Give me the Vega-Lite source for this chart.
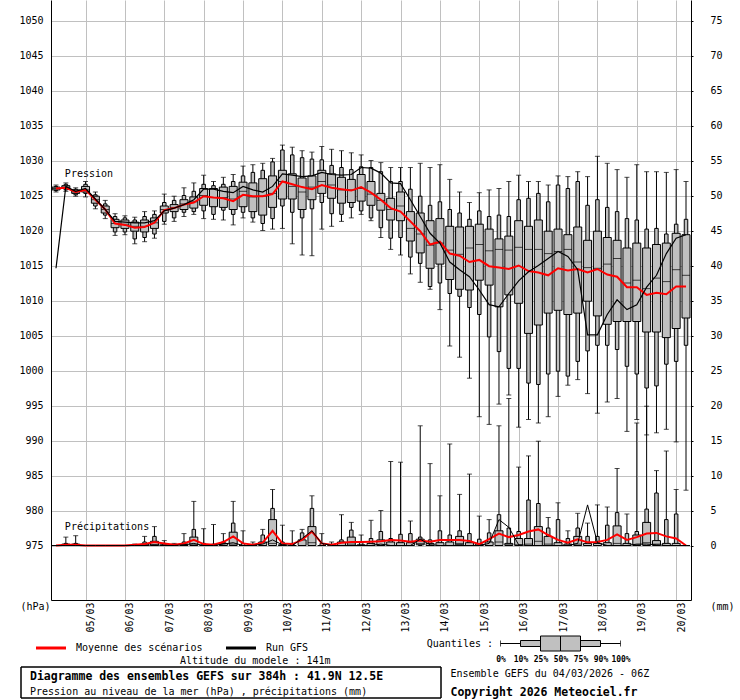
{
  "$schema": "https://vega.github.io/schema/vega-lite/v6.json",
  "background": "white",
  "padding": 0,
  "columns": 1,
  "spacing": 0,
  "config": {
    "font": "DejaVu Sans Mono",
    "view": {"stroke": null},
    "axis": {
      "labelFont": "DejaVu Sans Mono", "labelFontSize": 10, "labelColor": "black", "labelOverlap": false,
      "titleFont": "DejaVu Sans Mono", "titleFontSize": 10, "titleFontWeight": "normal", "titleColor": "black",
      "domainColor": "black", "domainWidth": 1, "gridColor": "#c0c0c0", "gridWidth": 1, "tickColor": "black"
    },
    "text": {"font": "DejaVu Sans Mono", "color": "black"},
    "title": {"font": "DejaVu Sans Mono", "fontSize": 10, "fontWeight": "normal", "color": "black"}
  },
  "datasets": {
    "ens": [
      {"t":"2026-03-04T06:00:00Z","lo":1025.5,"q10":1025.7,"q25":1025.8,"q50":1026.0,"q75":1026.2,"q90":1026.3,"hi":1026.5,"avg":1026.0,"run":1014.6,"r25":0,"r50":0,"r75":0,"r90":0,"rhi":0,"ravg":0,"rrun":0},
      {"t":"2026-03-04T12:00:00Z","lo":1025.6,"q10":1025.8,"q25":1026.0,"q50":1026.2,"q75":1026.4,"q90":1026.6,"hi":1026.8,"avg":1026.1,"run":1026.3,"r25":0,"r50":0,"r75":0.2,"r90":0.3,"rhi":1.2,"ravg":0.1,"rrun":0},
      {"t":"2026-03-04T18:00:00Z","lo":1024.9,"q10":1025.1,"q25":1025.3,"q50":1025.5,"q75":1025.8,"q90":1025.9,"hi":1026.1,"avg":1025.5,"run":1025.6,"r25":0,"r50":0,"r75":0.2,"r90":0.3,"rhi":1.4,"ravg":0.1,"rrun":0},
      {"t":"2026-03-05T00:00:00Z","lo":1024.8,"q10":1025.3,"q25":1025.5,"q50":1025.8,"q75":1026.3,"q90":1026.6,"hi":1027.0,"avg":1025.8,"run":1026.0,"r25":0,"r50":0,"r75":0,"r90":0,"rhi":0,"ravg":0,"rrun":0},
      {"t":"2026-03-05T06:00:00Z","lo":1023.1,"q10":1023.5,"q25":1023.9,"q50":1024.4,"q75":1024.9,"q90":1025.1,"hi":1025.5,"avg":1024.4,"run":1024.5,"r25":0,"r50":0,"r75":0,"r90":0,"rhi":0,"ravg":0,"rrun":0},
      {"t":"2026-03-05T12:00:00Z","lo":1021.7,"q10":1022.2,"q25":1022.5,"q50":1023.0,"q75":1023.5,"q90":1023.8,"hi":1024.3,"avg":1023.0,"run":1023.0,"r25":0,"r50":0,"r75":0,"r90":0,"rhi":0,"ravg":0,"rrun":0},
      {"t":"2026-03-05T18:00:00Z","lo":1019.3,"q10":1019.8,"q25":1020.4,"q50":1021.0,"q75":1021.6,"q90":1022.0,"hi":1022.4,"avg":1021.0,"run":1021.3,"r25":0,"r50":0,"r75":0,"r90":0,"rhi":0,"ravg":0,"rrun":0},
      {"t":"2026-03-06T00:00:00Z","lo":1019.4,"q10":1019.8,"q25":1020.3,"q50":1020.9,"q75":1021.5,"q90":1021.8,"hi":1022.1,"avg":1020.8,"run":1021.2,"r25":0,"r50":0,"r75":0,"r90":0,"rhi":0,"ravg":0,"rrun":0},
      {"t":"2026-03-06T06:00:00Z","lo":1018.1,"q10":1018.8,"q25":1019.9,"q50":1020.6,"q75":1021.2,"q90":1021.5,"hi":1021.9,"avg":1020.4,"run":1021.1,"r25":0,"r50":0,"r75":0,"r90":0.1,"rhi":0.2,"ravg":0.1,"rrun":0},
      {"t":"2026-03-06T12:00:00Z","lo":1018.4,"q10":1019.0,"q25":1019.8,"q50":1020.6,"q75":1021.5,"q90":1022.0,"hi":1022.7,"avg":1020.5,"run":1021.1,"r25":0,"r50":0,"r75":0.2,"r90":0.5,"rhi":1.3,"ravg":0.2,"rrun":0},
      {"t":"2026-03-06T18:00:00Z","lo":1018.9,"q10":1019.5,"q25":1020.3,"q50":1021.1,"q75":1021.8,"q90":1022.3,"hi":1022.8,"avg":1021.1,"run":1021.4,"r25":0,"r50":0.1,"r75":0.6,"r90":1.3,"rhi":2.7,"ravg":0.5,"rrun":0.1},
      {"t":"2026-03-07T00:00:00Z","lo":1020.9,"q10":1021.3,"q25":1022.5,"q50":1023.0,"q75":1023.5,"q90":1024.0,"hi":1025.2,"avg":1022.9,"run":1022.8,"r25":0,"r50":0,"r75":0.1,"r90":0.3,"rhi":0.7,"ravg":0.3,"rrun":0},
      {"t":"2026-03-07T06:00:00Z","lo":1021.3,"q10":1021.8,"q25":1022.7,"q50":1023.3,"q75":1023.7,"q90":1024.3,"hi":1024.9,"avg":1023.2,"run":1023.2,"r25":0,"r50":0,"r75":0,"r90":0.1,"rhi":0.3,"ravg":0.1,"rrun":0},
      {"t":"2026-03-07T12:00:00Z","lo":1022.0,"q10":1022.6,"q25":1023.0,"q50":1023.8,"q75":1024.4,"q90":1025.0,"hi":1026.1,"avg":1023.7,"run":1023.7,"r25":0,"r50":0,"r75":0.2,"r90":0.5,"rhi":1.7,"ravg":0.3,"rrun":0.1},
      {"t":"2026-03-07T18:00:00Z","lo":1022.3,"q10":1022.7,"q25":1023.2,"q50":1024.1,"q75":1024.8,"q90":1025.6,"hi":1026.8,"avg":1024.0,"run":1024.4,"r25":0,"r50":0.1,"r75":1.2,"r90":2.3,"rhi":6.3,"ravg":0.8,"rrun":0.3},
      {"t":"2026-03-08T00:00:00Z","lo":1021.7,"q10":1022.8,"q25":1023.6,"q50":1025.0,"q75":1026.0,"q90":1026.6,"hi":1027.9,"avg":1024.9,"run":1025.9,"r25":0,"r50":0,"r75":0,"r90":0.3,"rhi":2.4,"ravg":0.2,"rrun":0},
      {"t":"2026-03-08T06:00:00Z","lo":1021.6,"q10":1022.3,"q25":1023.4,"q50":1024.7,"q75":1026.0,"q90":1026.4,"hi":1027.0,"avg":1024.7,"run":1025.9,"r25":0,"r50":0,"r75":0,"r90":0.2,"rhi":3.0,"ravg":0.1,"rrun":0},
      {"t":"2026-03-08T12:00:00Z","lo":1021.5,"q10":1022.9,"q25":1023.3,"q50":1024.7,"q75":1026.2,"q90":1026.6,"hi":1027.6,"avg":1024.6,"run":1025.6,"r25":0,"r50":0,"r75":0.3,"r90":0.5,"rhi":1.7,"ravg":0.5,"rrun":0.2},
      {"t":"2026-03-08T18:00:00Z","lo":1020.8,"q10":1022.3,"q25":1023.0,"q50":1024.5,"q75":1026.3,"q90":1027.0,"hi":1028.0,"avg":1024.2,"run":1025.4,"r25":0,"r50":0.2,"r75":1.9,"r90":3.2,"rhi":6.3,"ravg":1.3,"rrun":0.4},
      {"t":"2026-03-09T00:00:00Z","lo":1021.8,"q10":1022.6,"q25":1023.4,"q50":1025.6,"q75":1026.9,"q90":1027.8,"hi":1029.2,"avg":1025.1,"run":1026.3,"r25":0,"r50":0,"r75":0,"r90":0.3,"rhi":2.1,"ravg":0.3,"rrun":0},
      {"t":"2026-03-09T06:00:00Z","lo":1021.2,"q10":1021.8,"q25":1022.7,"q50":1024.8,"q75":1026.8,"q90":1028.3,"hi":1029.4,"avg":1024.9,"run":1025.8,"r25":0,"r50":0,"r75":0,"r90":0,"rhi":0.5,"ravg":0.1,"rrun":0},
      {"t":"2026-03-09T12:00:00Z","lo":1020.0,"q10":1021.0,"q25":1022.2,"q50":1024.9,"q75":1027.4,"q90":1028.6,"hi":1029.6,"avg":1024.9,"run":1025.5,"r25":0,"r50":0,"r75":0.5,"r90":1.5,"rhi":2.3,"ravg":0.4,"rrun":0.2},
      {"t":"2026-03-09T18:00:00Z","lo":1020.2,"q10":1021.7,"q25":1023.3,"q50":1025.3,"q75":1027.8,"q90":1029.8,"hi":1030.3,"avg":1025.2,"run":1026.3,"r25":0,"r50":0.3,"r75":3.7,"r90":5.3,"rhi":8.0,"ravg":2.1,"rrun":0.8},
      {"t":"2026-03-10T00:00:00Z","lo":1020.3,"q10":1023.5,"q25":1024.5,"q50":1027.0,"q75":1028.6,"q90":1031.5,"hi":1032.2,"avg":1027.0,"run":1028.1,"r25":0,"r50":0,"r75":0.1,"r90":0.5,"rhi":2.9,"ravg":0.3,"rrun":0.1},
      {"t":"2026-03-10T06:00:00Z","lo":1018.1,"q10":1022.6,"q25":1024.5,"q50":1026.3,"q75":1028.1,"q90":1030.8,"hi":1031.9,"avg":1026.6,"run":1027.9,"r25":0,"r50":0,"r75":0,"r90":0.3,"rhi":2.1,"ravg":0.2,"rrun":0},
      {"t":"2026-03-10T12:00:00Z","lo":1016.5,"q10":1021.8,"q25":1023.0,"q50":1025.5,"q75":1027.5,"q90":1030.4,"hi":1031.4,"avg":1026.2,"run":1027.7,"r25":0,"r50":0,"r75":0.8,"r90":1.8,"rhi":2.3,"ravg":0.8,"rrun":1.0},
      {"t":"2026-03-10T18:00:00Z","lo":1016.4,"q10":1023.1,"q25":1024.4,"q50":1026.2,"q75":1027.8,"q90":1030.2,"hi":1031.2,"avg":1025.9,"run":1027.8,"r25":0,"r50":0.4,"r75":2.7,"r90":5.3,"rhi":7.1,"ravg":2.0,"rrun":2.1},
      {"t":"2026-03-11T00:00:00Z","lo":1020.2,"q10":1024.0,"q25":1025.3,"q50":1027.0,"q75":1028.6,"q90":1030.1,"hi":1032.0,"avg":1026.5,"run":1028.3,"r25":0,"r50":0,"r75":0,"r90":0.3,"rhi":1.7,"ravg":0.3,"rrun":0.3},
      {"t":"2026-03-11T06:00:00Z","lo":1020.6,"q10":1022.4,"q25":1024.6,"q50":1026.5,"q75":1028.1,"q90":1029.3,"hi":1031.6,"avg":1026.1,"run":1028.0,"r25":0,"r50":0,"r75":0,"r90":0,"rhi":0.5,"ravg":0.1,"rrun":0},
      {"t":"2026-03-11T12:00:00Z","lo":1021.3,"q10":1022.3,"q25":1023.9,"q50":1025.8,"q75":1027.6,"q90":1029.0,"hi":1031.4,"avg":1025.9,"run":1027.9,"r25":0,"r50":0,"r75":0.5,"r90":0.8,"rhi":4.4,"ravg":0.4,"rrun":0},
      {"t":"2026-03-11T18:00:00Z","lo":1021.8,"q10":1023.3,"q25":1024.0,"q50":1025.8,"q75":1027.3,"q90":1028.7,"hi":1031.1,"avg":1025.7,"run":1028.0,"r25":0,"r50":0.2,"r75":1.2,"r90":2.2,"rhi":3.3,"ravg":0.5,"rrun":0},
      {"t":"2026-03-12T00:00:00Z","lo":1022.3,"q10":1022.8,"q25":1024.2,"q50":1026.0,"q75":1028.0,"q90":1029.1,"hi":1030.8,"avg":1026.2,"run":1029.0,"r25":0,"r50":0,"r75":0.1,"r90":0.5,"rhi":1.5,"ravg":0.5,"rrun":0},
      {"t":"2026-03-12T06:00:00Z","lo":1021.4,"q10":1021.8,"q25":1023.6,"q50":1025.2,"q75":1027.0,"q90":1029.0,"hi":1030.0,"avg":1025.4,"run":1028.9,"r25":0,"r50":0,"r75":0.3,"r90":1.0,"rhi":3.6,"ravg":0.55,"rrun":0},
      {"t":"2026-03-12T12:00:00Z","lo":1019.0,"q10":1020.4,"q25":1022.9,"q50":1024.3,"q75":1025.3,"q90":1028.4,"hi":1029.7,"avg":1024.4,"run":1028.2,"r25":0,"r50":0,"r75":0.8,"r90":2.0,"rhi":5.0,"ravg":0.6,"rrun":0.2},
      {"t":"2026-03-12T18:00:00Z","lo":1017.3,"q10":1018.9,"q25":1021.5,"q50":1023.0,"q75":1024.6,"q90":1027.0,"hi":1029.0,"avg":1023.2,"run":1026.8,"r25":0,"r50":0,"r75":0.5,"r90":1.0,"rhi":12.0,"ravg":0.8,"rrun":0},
      {"t":"2026-03-13T00:00:00Z","lo":1016.5,"q10":1019.0,"q25":1021.4,"q50":1023.5,"q75":1025.5,"q90":1027.0,"hi":1029.0,"avg":1022.7,"run":1026.7,"r25":0,"r50":0,"r75":0.4,"r90":1.6,"rhi":11.9,"ravg":0.7,"rrun":0},
      {"t":"2026-03-13T06:00:00Z","lo":1013.8,"q10":1016.2,"q25":1018.5,"q50":1020.3,"q75":1022.7,"q90":1025.9,"hi":1029.0,"avg":1021.3,"run":1024.4,"r25":0,"r50":0,"r75":0.4,"r90":1.7,"rhi":3.5,"ravg":0.55,"rrun":0},
      {"t":"2026-03-13T12:00:00Z","lo":1012.6,"q10":1015.3,"q25":1016.8,"q50":1019.5,"q75":1022.5,"q90":1024.9,"hi":1029.6,"avg":1019.9,"run":1022.0,"r25":0.1,"r50":0.3,"r75":0.9,"r90":1.2,"rhi":17.1,"ravg":0.7,"rrun":0.9},
      {"t":"2026-03-13T18:00:00Z","lo":1011.6,"q10":1012.0,"q25":1014.6,"q50":1017.9,"q75":1021.4,"q90":1023.6,"hi":1029.0,"avg":1018.0,"run":1019.6,"r25":0,"r50":0,"r75":0.3,"r90":0.8,"rhi":11.7,"ravg":0.55,"rrun":0.1},
      {"t":"2026-03-14T00:00:00Z","lo":1008.7,"q10":1012.5,"q25":1015.2,"q50":1018.2,"q75":1021.7,"q90":1024.1,"hi":1029.4,"avg":1018.4,"run":1018.2,"r25":0,"r50":0,"r75":0.4,"r90":2.1,"rhi":7.1,"ravg":0.8,"rrun":0},
      {"t":"2026-03-14T06:00:00Z","lo":1003.5,"q10":1011.0,"q25":1013.0,"q50":1017.2,"q75":1020.6,"q90":1023.0,"hi":1027.3,"avg":1016.7,"run":1015.5,"r25":0,"r50":0,"r75":0.5,"r90":1.5,"rhi":14.5,"ravg":0.8,"rrun":0},
      {"t":"2026-03-14T12:00:00Z","lo":1001.9,"q10":1010.6,"q25":1011.6,"q50":1016.6,"q75":1020.5,"q90":1022.5,"hi":1025.5,"avg":1016.4,"run":1014.4,"r25":0.1,"r50":0.3,"r75":1.3,"r90":2.1,"rhi":7.3,"ravg":0.8,"rrun":0},
      {"t":"2026-03-14T18:00:00Z","lo":998.9,"q10":1009.0,"q25":1011.5,"q50":1017.5,"q75":1020.6,"q90":1021.6,"hi":1024.0,"avg":1015.5,"run":1013.4,"r25":0,"r50":0,"r75":0.4,"r90":1.7,"rhi":10.2,"ravg":0.65,"rrun":0},
      {"t":"2026-03-15T00:00:00Z","lo":993.4,"q10":1008.0,"q25":1012.9,"q50":1018.0,"q75":1020.9,"q90":1022.8,"hi":1025.4,"avg":1015.8,"run":1011.5,"r25":0,"r50":0,"r75":0.2,"r90":0.9,"rhi":4.2,"ravg":0.2,"rrun":0},
      {"t":"2026-03-15T06:00:00Z","lo":992.3,"q10":1004.8,"q25":1012.2,"q50":1017.1,"q75":1020.2,"q90":1022.0,"hi":1025.8,"avg":1014.9,"run":1009.4,"r25":0,"r50":0,"r75":0.5,"r90":1.8,"rhi":3.7,"ravg":0.9,"rrun":0.3},
      {"t":"2026-03-15T12:00:00Z","lo":995.2,"q10":1002.7,"q25":1009.1,"q50":1017.3,"q75":1018.8,"q90":1022.2,"hi":1026.0,"avg":1014.7,"run":1009.1,"r25":0,"r50":0.5,"r75":2.1,"r90":4.4,"rhi":17.1,"ravg":1.7,"rrun":3.7},
      {"t":"2026-03-15T18:00:00Z","lo":996.5,"q10":1000.3,"q25":1010.8,"q50":1017.2,"q75":1019.2,"q90":1022.0,"hi":1027.0,"avg":1014.5,"run":1011.0,"r25":0,"r50":0.1,"r75":0.3,"r90":2.5,"rhi":21.0,"ravg":1.2,"rrun":2.6},
      {"t":"2026-03-16T00:00:00Z","lo":991.9,"q10":1000.3,"q25":1009.6,"q50":1017.6,"q75":1021.4,"q90":1024.4,"hi":1027.9,"avg":1015.0,"run":1012.8,"r25":0,"r50":0.1,"r75":1.0,"r90":2.0,"rhi":11.2,"ravg":1.5,"rrun":0.1},
      {"t":"2026-03-16T06:00:00Z","lo":993.0,"q10":998.2,"q25":1005.3,"q50":1017.3,"q75":1020.6,"q90":1024.6,"hi":1027.0,"avg":1014.2,"run":1014.1,"r25":0,"r50":0.2,"r75":1.0,"r90":6.5,"rhi":12.8,"ravg":2.0,"rrun":0},
      {"t":"2026-03-16T12:00:00Z","lo":992.5,"q10":998.0,"q25":1006.5,"q50":1017.3,"q75":1021.5,"q90":1025.3,"hi":1027.0,"avg":1014.0,"run":1015.0,"r25":0,"r50":0.6,"r75":2.7,"r90":6.0,"rhi":14.9,"ravg":2.3,"rrun":0},
      {"t":"2026-03-16T18:00:00Z","lo":993.4,"q10":999.5,"q25":1008.2,"q50":1016.7,"q75":1019.9,"q90":1024.1,"hi":1026.5,"avg":1013.6,"run":1016.0,"r25":0,"r50":0.2,"r75":1.3,"r90":2.5,"rhi":4.0,"ravg":1.5,"rrun":0},
      {"t":"2026-03-17T00:00:00Z","lo":996.3,"q10":999.9,"q25":1008.6,"q50":1017.0,"q75":1020.2,"q90":1026.5,"hi":1027.8,"avg":1014.6,"run":1017.0,"r25":0,"r50":0,"r75":0.4,"r90":3.7,"rhi":6.1,"ravg":0.8,"rrun":0},
      {"t":"2026-03-17T06:00:00Z","lo":997.9,"q10":999.2,"q25":1008.0,"q50":1017.3,"q75":1019.4,"q90":1026.0,"hi":1027.7,"avg":1014.3,"run":1016.3,"r25":0,"r50":0,"r75":0.2,"r90":1.0,"rhi":2.1,"ravg":0.4,"rrun":0},
      {"t":"2026-03-17T12:00:00Z","lo":998.7,"q10":1001.3,"q25":1008.2,"q50":1015.5,"q75":1020.5,"q90":1027.0,"hi":1028.4,"avg":1014.5,"run":1014.4,"r25":0,"r50":0.2,"r75":1.3,"r90":2.5,"rhi":4.6,"ravg":0.9,"rrun":0.3},
      {"t":"2026-03-17T18:00:00Z","lo":996.7,"q10":1002.8,"q25":1009.9,"q50":1014.7,"q75":1018.6,"q90":1023.6,"hi":1027.7,"avg":1014.0,"run":1005.1,"r25":0,"r50":0,"r75":0.3,"r90":1.3,"rhi":3.2,"ravg":0.45,"rrun":5.8},
      {"t":"2026-03-18T00:00:00Z","lo":993.9,"q10":1003.6,"q25":1007.8,"q50":1014.6,"q75":1019.9,"q90":1024.4,"hi":1030.6,"avg":1014.5,"run":1005.1,"r25":0,"r50":0,"r75":0.3,"r90":1.3,"rhi":5.8,"ravg":0.5,"rrun":0.4},
      {"t":"2026-03-18T06:00:00Z","lo":995.5,"q10":1003.6,"q25":1006.6,"q50":1015.2,"q75":1019.0,"q90":1023.3,"hi":1029.6,"avg":1013.7,"run":1008.0,"r25":0,"r50":0,"r75":0.4,"r90":2.9,"rhi":5.5,"ravg":0.8,"rrun":0},
      {"t":"2026-03-18T12:00:00Z","lo":996.0,"q10":1003.0,"q25":1007.0,"q50":1016.0,"q75":1018.6,"q90":1022.7,"hi":1028.7,"avg":1013.4,"run":1010.1,"r25":0,"r50":0.3,"r75":2.8,"r90":4.7,"rhi":11.0,"ravg":1.6,"rrun":0},
      {"t":"2026-03-18T18:00:00Z","lo":991.3,"q10":1000.6,"q25":1007.0,"q50":1012.5,"q75":1017.5,"q90":1021.7,"hi":1027.6,"avg":1011.9,"run":1008.7,"r25":0,"r50":0,"r75":0.3,"r90":1.7,"rhi":4.5,"ravg":0.8,"rrun":0},
      {"t":"2026-03-19T00:00:00Z","lo":993.0,"q10":999.5,"q25":1007.0,"q50":1012.9,"q75":1018.2,"q90":1021.5,"hi":1029.4,"avg":1011.9,"run":1009.4,"r25":0,"r50":0.1,"r75":1.5,"r90":2.0,"rhi":17.5,"ravg":1.2,"rrun":0.2},
      {"t":"2026-03-19T06:00:00Z","lo":990.8,"q10":997.5,"q25":1005.5,"q50":1011.7,"q75":1017.5,"q90":1020.2,"hi":1028.4,"avg":1010.8,"run":1011.9,"r25":0,"r50":0.4,"r75":3.3,"r90":5.2,"rhi":19.9,"ravg":1.7,"rrun":0.2},
      {"t":"2026-03-19T12:00:00Z","lo":991.1,"q10":997.8,"q25":1005.5,"q50":1013.2,"q75":1018.0,"q90":1020.3,"hi":1028.4,"avg":1011.1,"run":1013.6,"r25":0,"r50":0.2,"r75":0.7,"r90":7.5,"rhi":10.7,"ravg":1.8,"rrun":0.1},
      {"t":"2026-03-19T18:00:00Z","lo":991.6,"q10":1000.9,"q25":1004.7,"q50":1012.7,"q75":1018.2,"q90":1019.5,"hi":1028.3,"avg":1010.9,"run":1016.7,"r25":0,"r50":0,"r75":0.3,"r90":3.7,"rhi":13.5,"ravg":1.3,"rrun":0},
      {"t":"2026-03-20T00:00:00Z","lo":989.8,"q10":1001.3,"q25":1006.0,"q50":1014.4,"q75":1019.6,"q90":1020.9,"hi":1028.7,"avg":1012.0,"run":1018.9,"r25":0,"r50":0,"r75":0.3,"r90":4.5,"rhi":8.0,"ravg":1.0,"rrun":0},
      {"t":"2026-03-20T06:00:00Z","lo":982.9,"q10":1003.6,"q25":1007.5,"q50":1013.6,"q75":1019.4,"q90":1021.6,"hi":1027.0,"avg":1012.0,"run":1019.4,"r25":0,"r50":0,"r75":0,"r90":0,"rhi":0,"ravg":0,"rrun":0}
    ]
  },
  "concat": [
    {
      "width": 640,
      "height": 600,
      "data": {"name": "ens"},
      "encoding": {
        "x": {
          "field": "t", "type": "temporal", "title": null,
          "scale": {"type": "utc", "domain": [{"year": 2026, "month": 3, "date": 4, "hours": 6, "utc": true}, {"year": 2026, "month": 3, "date": 20, "hours": 6, "utc": true}]},
          "axis": {
            "values": [
              {"year": 2026, "month": 3, "date": 5, "utc": true}, {"year": 2026, "month": 3, "date": 6, "utc": true},
              {"year": 2026, "month": 3, "date": 7, "utc": true}, {"year": 2026, "month": 3, "date": 8, "utc": true},
              {"year": 2026, "month": 3, "date": 9, "utc": true}, {"year": 2026, "month": 3, "date": 10, "utc": true},
              {"year": 2026, "month": 3, "date": 11, "utc": true}, {"year": 2026, "month": 3, "date": 12, "utc": true},
              {"year": 2026, "month": 3, "date": 13, "utc": true}, {"year": 2026, "month": 3, "date": 14, "utc": true},
              {"year": 2026, "month": 3, "date": 15, "utc": true}, {"year": 2026, "month": 3, "date": 16, "utc": true},
              {"year": 2026, "month": 3, "date": 17, "utc": true}, {"year": 2026, "month": 3, "date": 18, "utc": true},
              {"year": 2026, "month": 3, "date": 19, "utc": true}, {"year": 2026, "month": 3, "date": 20, "utc": true}
            ],
            "tickCount": 100,
            "format": "%d/%m", "labelAngle": -90, "labelAlign": "right", "labelBaseline": "middle",
            "labelPadding": 2, "labelOffset": 5, "tickSize": 0, "grid": true,
            "labelFlush": false, "labelOverlap": false, "minExtent": 35, "maxExtent": 35
          }
        }
      },
      "layer": [
        {
          "layer": [
            {
              "mark": {"type": "rule", "color": "black", "strokeWidth": 1},
              "encoding": {
                "y": {
                  "field": "lo", "type": "quantitative",
                  "scale": {"domain": [967.2143, 1052.9286], "nice": false, "zero": false},
                  "axis": {
                    "orient": "left",
                    "values": [975, 980, 985, 990, 995, 1000, 1005, 1010, 1015, 1020, 1025, 1030, 1035, 1040, 1045, 1050],
                    "tickCount": 100, "format": "d", "labelOverlap": false,
                    "grid": true, "tickSize": 0, "labelPadding": 8, "minExtent": 51, "maxExtent": 51,
                    "title": "(hPa)", "titleAngle": 0, "titleAlign": "left", "titleBaseline": "alphabetic",
                    "titleX": -31, "titleY": 609
                  }
                },
                "y2": {"field": "hi"}
              }
            },
            {
              "mark": {"type": "tick", "orient": "horizontal", "color": "black", "size": 5, "thickness": 1},
              "encoding": {"y": {"field": "lo", "type": "quantitative", "scale": {"domain": [967.2143, 1052.9286], "nice": false, "zero": false}}}
            },
            {
              "mark": {"type": "tick", "orient": "horizontal", "color": "black", "size": 5, "thickness": 1},
              "encoding": {"y": {"field": "hi", "type": "quantitative", "scale": {"domain": [967.2143, 1052.9286], "nice": false, "zero": false}}}
            },
            {
              "mark": {"type": "bar", "orient": "vertical", "size": 3.5, "fill": "#c0c0c0", "stroke": "black", "strokeWidth": 1},
              "encoding": {
                "y": {"field": "q10", "type": "quantitative", "scale": {"domain": [967.2143, 1052.9286], "nice": false, "zero": false}},
                "y2": {"field": "q90"}
              }
            },
            {
              "mark": {"type": "bar", "orient": "vertical", "size": 8, "fill": "#c0c0c0", "stroke": "black", "strokeWidth": 1},
              "encoding": {
                "y": {"field": "q25", "type": "quantitative", "scale": {"domain": [967.2143, 1052.9286], "nice": false, "zero": false}},
                "y2": {"field": "q75"}
              }
            },
            {
              "mark": {"type": "tick", "orient": "horizontal", "color": "black", "size": 8, "thickness": 1},
              "encoding": {"y": {"field": "q50", "type": "quantitative", "scale": {"domain": [967.2143, 1052.9286], "nice": false, "zero": false}}}
            },
            {
              "mark": {"type": "line", "color": "#ff0000", "strokeWidth": 2},
              "encoding": {"y": {"field": "avg", "type": "quantitative", "scale": {"domain": [967.2143, 1052.9286], "nice": false, "zero": false}}}
            },
            {
              "mark": {"type": "line", "color": "black", "strokeWidth": 1.2},
              "encoding": {"y": {"field": "run", "type": "quantitative", "scale": {"domain": [967.2143, 1052.9286], "nice": false, "zero": false}}}
            },
            {
              "data": {"values": [{"t": "2026-03-04T11:24:00Z", "v": 1027.6, "txt": "Pression"}]},
              "mark": {"type": "text", "align": "left", "baseline": "alphabetic", "fontSize": 10},
              "encoding": {
                "y": {"field": "v", "type": "quantitative", "scale": {"domain": [967.2143, 1052.9286], "nice": false, "zero": false}},
                "text": {"field": "txt"}
              }
            }
          ]
        },
        {
          "layer": [
            {
              "mark": {"type": "rule", "color": "black", "strokeWidth": 1},
              "encoding": {
                "y": {
                  "field": "rhi", "type": "quantitative",
                  "scale": {"domain": [-7.7857, 77.9286], "nice": false, "zero": false},
                  "axis": {
                    "orient": "right",
                    "values": [0, 5, 10, 15, 20, 25, 30, 35, 40, 45, 50, 55, 60, 65, 70, 75],
                    "tickCount": 100, "format": "d", "labelOverlap": false,
                    "grid": false, "tickSize": 2, "labelPadding": 17, "labelAlign": "left",
                    "title": "(mm)", "titleAngle": 0, "titleAlign": "left", "titleBaseline": "alphabetic",
                    "titleX": 19, "titleY": 609
                  }
                },
                "y2": {"datum": 0}
              }
            },
            {
              "mark": {"type": "tick", "orient": "horizontal", "color": "black", "size": 5, "thickness": 1},
              "encoding": {"y": {"field": "rhi", "type": "quantitative", "scale": {"domain": [-7.7857, 77.9286], "nice": false, "zero": false}}}
            },
            {
              "mark": {"type": "bar", "orient": "vertical", "size": 3.5, "fill": "#c0c0c0", "stroke": "black", "strokeWidth": 1},
              "encoding": {
                "y": {"field": "r90", "type": "quantitative", "scale": {"domain": [-7.7857, 77.9286], "nice": false, "zero": false}},
                "y2": {"datum": 0}
              }
            },
            {
              "mark": {"type": "bar", "orient": "vertical", "size": 8, "fill": "#c0c0c0", "stroke": "black", "strokeWidth": 1},
              "encoding": {
                "y": {"field": "r75", "type": "quantitative", "scale": {"domain": [-7.7857, 77.9286], "nice": false, "zero": false}},
                "y2": {"field": "r25"}
              }
            },
            {
              "mark": {"type": "tick", "orient": "horizontal", "color": "black", "size": 8, "thickness": 1},
              "encoding": {"y": {"field": "r50", "type": "quantitative", "scale": {"domain": [-7.7857, 77.9286], "nice": false, "zero": false}}}
            },
            {
              "mark": {"type": "line", "color": "#ff0000", "strokeWidth": 2},
              "encoding": {"y": {"field": "ravg", "type": "quantitative", "scale": {"domain": [-7.7857, 77.9286], "nice": false, "zero": false}}}
            },
            {
              "mark": {"type": "line", "color": "black", "strokeWidth": 1},
              "encoding": {"y": {"field": "rrun", "type": "quantitative", "scale": {"domain": [-7.7857, 77.9286], "nice": false, "zero": false}}}
            },
            {
              "data": {"values": [{"t": "2026-03-04T11:24:00Z", "v": 2.2, "txt": "Précipitations"}]},
              "mark": {"type": "text", "align": "left", "baseline": "alphabetic", "fontSize": 10},
              "encoding": {
                "y": {"field": "v", "type": "quantitative", "scale": {"domain": [-7.7857, 77.9286], "nice": false, "zero": false}},
                "text": {"field": "txt"}
              }
            }
          ]
        }
      ],
      "resolve": {"scale": {"y": "independent"}}
    },
    {
      "spacing": 94.5,
      "hconcat": [
        {
          "width": 190,
          "height": 24,
          "data": {"values": [{"name": "Moyenne des scénarios"}, {"name": "Run GFS"}]},
          "title": {"text": "Altitude du modele : 141m", "orient": "bottom", "anchor": "start", "frame": "group", "dx": 129, "offset": -4, "fontSize": 10, "fontWeight": "normal"},
          "encoding": {
            "x": {"field": "name", "type": "nominal", "title": null, "scale": {"type": "point", "padding": 0}, "axis": null}
          },
          "layer": [
            {
              "mark": {"type": "point", "shape": "stroke", "size": 900, "strokeWidth": 3, "opacity": 1, "filled": false},
              "encoding": {
                "color": {"field": "name", "type": "nominal", "scale": {"range": ["#ff0000", "#000000"]}, "legend": null}
              }
            },
            {
              "mark": {"type": "text", "align": "left", "baseline": "middle", "dx": 25, "fontSize": 10},
              "encoding": {"text": {"field": "name"}}
            }
          ]
        },
        {
          "width": 120,
          "height": 15,
          "data": {"values": [{"k": "Quantiles :", "q0": 0, "q10": 10, "q25": 25, "q50": 50, "q75": 75, "q90": 90, "q100": 100}]},
          "encoding": {
            "y": {
              "field": "k", "type": "nominal", "title": null,
              "scale": {"type": "band", "paddingInner": 0, "paddingOuter": 0},
              "axis": {"domain": false, "ticks": false, "labelPadding": 8, "minExtent": 75, "maxExtent": 75, "labelFontSize": 10}
            }
          },
          "layer": [
            {
              "mark": {"type": "rule", "color": "black", "strokeWidth": 1},
              "encoding": {
                "x": {
                  "field": "q0", "type": "quantitative", "title": null,
                  "scale": {"type": "linear", "domain": [0, 10, 25, 50, 75, 90, 100], "range": [0, 20, 40, 60, 80, 100, 120], "nice": false, "zero": false},
                  "axis": {
                    "values": [0, 10, 25, 50, 75, 90, 100], "tickCount": 100, "labelExpr": "datum.value + '%'",
                    "domain": false, "ticks": false, "grid": false, "labelPadding": 4,
                    "labelFontSize": 8, "labelFontWeight": "bold", "labelFlush": false, "labelOverlap": false, "labelBound": false
                  }
                },
                "x2": {"field": "q100"}
              }
            },
            {
              "mark": {"type": "tick", "orient": "vertical", "color": "black", "size": 6, "thickness": 1},
              "encoding": {"x": {"field": "q0", "type": "quantitative"}}
            },
            {
              "mark": {"type": "tick", "orient": "vertical", "color": "black", "size": 6, "thickness": 1},
              "encoding": {"x": {"field": "q100", "type": "quantitative"}}
            },
            {
              "mark": {"type": "bar", "orient": "horizontal", "size": 6, "fill": "#c0c0c0", "stroke": "black", "strokeWidth": 1},
              "encoding": {"x": {"field": "q10", "type": "quantitative"}, "x2": {"field": "q90"}}
            },
            {
              "mark": {"type": "bar", "orient": "horizontal", "size": 15, "fill": "#c0c0c0", "stroke": "black", "strokeWidth": 1},
              "encoding": {"x": {"field": "q25", "type": "quantitative"}, "x2": {"field": "q50"}}
            },
            {
              "mark": {"type": "bar", "orient": "horizontal", "size": 15, "fill": "#c0c0c0", "stroke": "black", "strokeWidth": 1},
              "encoding": {"x": {"field": "q50", "type": "quantitative"}, "x2": {"field": "q75"}}
            }
          ]
        }
      ]
    },
    {
      "spacing": 8.5,
      "hconcat": [
        {
          "width": 390,
          "height": 31,
          "data": {"values": [
            {"grp": "box", "line": 1, "txt": "Diagramme des ensembles GEFS sur 384h : 41.9N 12.5E"},
            {"grp": "box", "line": 2, "txt": "Pression au niveau de la mer (hPa) , précipitations (mm)"}
          ]},
          "encoding": {
            "x": {"field": "grp", "type": "nominal", "bandPosition": 0, "scale": {"type": "band", "range": [-30, 390], "paddingInner": 0, "paddingOuter": 0}, "axis": null}
          },
          "layer": [
            {
              "mark": {"type": "rect", "fillOpacity": 0, "stroke": "black", "strokeWidth": 1},
              "encoding": {}
            },
            {
              "transform": [{"filter": "datum.line == 1"}],
              "mark": {"type": "text", "align": "left", "baseline": "middle", "dx": 9, "dy": 2, "fontSize": 11.5, "fontWeight": "bold"},
              "encoding": {
                "y": {"field": "line", "type": "ordinal", "scale": {"type": "point", "padding": 0.6}, "axis": null},
                "text": {"field": "txt"}
              }
            },
            {
              "transform": [{"filter": "datum.line == 2"}],
              "mark": {"type": "text", "align": "left", "baseline": "middle", "dx": 9, "dy": 2, "fontSize": 10},
              "encoding": {
                "y": {"field": "line", "type": "ordinal", "scale": {"type": "point", "padding": 0.6}, "axis": null},
                "text": {"field": "txt"}
              }
            }
          ]
        },
        {
          "width": 200,
          "height": 29,
          "data": {"values": [
            {"grp": "info", "line": 1, "txt": "Ensemble GEFS du 04/03/2026 - 06Z"},
            {"grp": "info", "line": 2, "txt": "Copyright 2026 Meteociel.fr"}
          ]},
          "encoding": {
            "x": {"field": "grp", "type": "nominal", "bandPosition": 0, "scale": {"type": "band", "paddingInner": 0, "paddingOuter": 0}, "axis": null},
            "y": {"field": "line", "type": "ordinal", "scale": {"type": "point", "padding": 0.244}, "axis": null}
          },
          "layer": [
            {
              "transform": [{"filter": "datum.line == 1"}],
              "mark": {"type": "text", "align": "left", "baseline": "middle", "dy": 2, "fontSize": 10},
              "encoding": {"text": {"field": "txt"}}
            },
            {
              "transform": [{"filter": "datum.line == 2"}],
              "mark": {"type": "text", "align": "left", "baseline": "middle", "dy": 2, "fontSize": 11.5, "fontWeight": "bold"},
              "encoding": {"text": {"field": "txt"}}
            }
          ]
        }
      ]
    }
  ]
}
